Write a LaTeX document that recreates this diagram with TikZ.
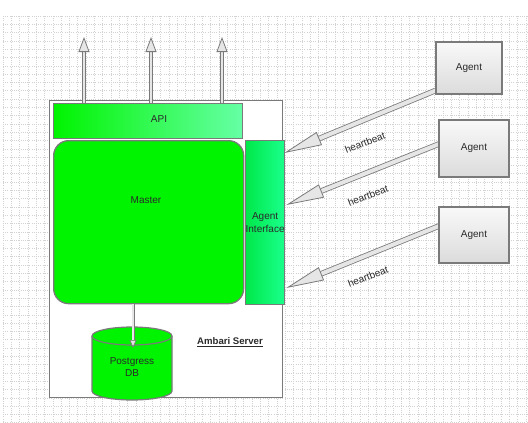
\documentclass[tikz,border=0pt]{standalone}
\usepackage{fontspec}
\setmainfont{Liberation Sans}
\usetikzlibrary{arrows.meta,calc}
\pgfdeclarelayer{back}
\pgfdeclarelayer{mid}
\pgfsetlayers{back,mid,main}
\definecolor{frame}{HTML}{7A7A7A}
\definecolor{bgreen}{HTML}{00F400}
\definecolor{lgreen}{HTML}{66FFA6}
\definecolor{aigreenL}{HTML}{00E84A}
\definecolor{aigreenR}{HTML}{1AFF8C}
\definecolor{gridc}{HTML}{D2D2D2}
\definecolor{shaft}{HTML}{E6E6E6}
\definecolor{txt}{HTML}{2A2A2A}
\tikzset{
  gridline/.style={gridc, line width=0.5pt, dash pattern=on 0.8pt off 1.4pt},
  greenbox/.style={draw=frame, line width=1.3pt, inner sep=0pt},
  agentbox/.style={draw=frame, line width=1.1pt, top color=gray!5, bottom color=gray!28,
     inner sep=0pt, text=txt},
  uparrow/.style={draw=frame, double=shaft, double distance=2.4pt, line width=0.8pt,
     -{Triangle[length=15pt,width=11pt,fill=shaft,line width=0.8pt]}},
  hbarrow/.style={draw=frame, double=shaft, double distance=4pt, line width=0.8pt,
     -{Triangle[length=38pt,width=14pt,fill=shaft,line width=0.8pt]}},
  lbl/.style={text=txt, inner sep=0pt},
  hblbl/.style={text=txt, inner sep=0pt, rotate=21}
}
\begin{document}
\begin{tikzpicture}[x=1pt,y=-1pt, font=\fontsize{10}{12.5}\selectfont]
\useasboundingbox (0,0) rectangle (528,423);
\begin{pgfonlayer}{back}
\fill[white] (0,0) rectangle (528,423);
% background grid
\foreach \i in {0,...,63} \draw[gridline] ({3+8.3*\i},16) -- ({3+8.3*\i},423);
\foreach \j in {0,...,49} \draw[gridline] (3,{16+8.3*\j}) -- (528,{16+8.3*\j});
% Ambari server frame
\node[draw=frame, fill=white, line width=1.2pt, minimum width=233pt, minimum height=297pt,
      anchor=north west, inner sep=0pt] (srv) at (49,100) {};
\end{pgfonlayer}

% API
\node[greenbox, left color=bgreen, middle color=bgreen, right color=lgreen,
      minimum width=189pt, minimum height=35pt, anchor=north west] (api) at (53,103) {};
\node[lbl] (apit) at (159,119) {API};

% Master
\node[greenbox, fill=bgreen, rounded corners=15pt, minimum width=190pt, minimum height=163pt,
      anchor=north west] (master) at (53,140) {};
\node[lbl] (mastert) at (146,200) {Master};

% Agent interface
\node[greenbox, left color=aigreenL, right color=aigreenR, minimum width=33pt, minimum height=164pt,
      anchor=north west, align=center, text=txt] (ai) at (245,140) {Agent\\Interface};

% Postgress DB cylinder
\node[minimum width=80pt, minimum height=73pt, inner sep=0pt] (db) at (132,363.5) {};
\filldraw[fill=bgreen, draw=frame, line width=1.2pt]
  (92,336) -- (92,391) arc[start angle=180, end angle=360, x radius=40pt, y radius=9pt]
  -- (172,336) arc[start angle=0, end angle=180, x radius=40pt, y radius=9pt] -- cycle;
\draw[frame, line width=1.2pt] (92,336) arc[start angle=180, end angle=360, x radius=40pt, y radius=9pt];
\node[lbl, align=center] (dbt) at (132,367) {Postgress\\DB};

% Master -> DB
\coordinate (dbin) at (133,348);
\draw[draw=frame, double=shaft, double distance=1.6pt, line width=0.7pt,
      -{Triangle[length=8pt,width=7pt,fill=shaft,line width=0.7pt]}]
  (master.south -| dbin) -- (dbin);

% Ambari Server label
\node[lbl, font=\fontsize{9.6}{11}\selectfont\bfseries] (srvt) at (230,342) {\underline{Ambari Server}};

% Up arrows from API
\coordinate (u1) at (84,37);
\coordinate (u2) at (151,37);
\coordinate (u3) at (222,37);
\draw[uparrow] (api.north -| u1) -- (u1);
\draw[uparrow] (api.north -| u2) -- (u2);
\draw[uparrow] (api.north -| u3) -- (u3);

% Agents
\node[agentbox, minimum width=66pt, minimum height=52pt] (ag1) at (469,68) {Agent};
\node[agentbox, minimum width=70pt, minimum height=57pt] (ag2) at (474,148.5) {Agent};
\node[agentbox, minimum width=70pt, minimum height=56pt] (ag3) at (474,235) {Agent};

% heartbeat arrows (drawn beneath the agent boxes)
\coordinate (h1s) at ($(ag1.south west)+(0,-4)$);
\coordinate (h2s) at ($(ag2.west)+(3,-5.5)$);
\coordinate (h3s) at ($(ag3.west)+(3,-10)$);
\coordinate (h1e) at ($(ai.north east)+(-1,13)$);
\coordinate (h2e) at ($(ai.north east)+(1,65)$);
\coordinate (h3e) at ($(ai.north east)+(1,148)$);
\begin{pgfonlayer}{mid}
\draw[hbarrow] (h1s) -- (h1e);
\draw[hbarrow] (h2s) -- (h2e);
\draw[hbarrow] (h3s) -- (h3e);
\end{pgfonlayer}
\node[hblbl] (hb1) at (365,143) {heartbeat};
\node[hblbl] (hb2) at (368,196) {heartbeat};
\node[hblbl] (hb3) at (368,277) {heartbeat};
\end{tikzpicture}
\end{document}
